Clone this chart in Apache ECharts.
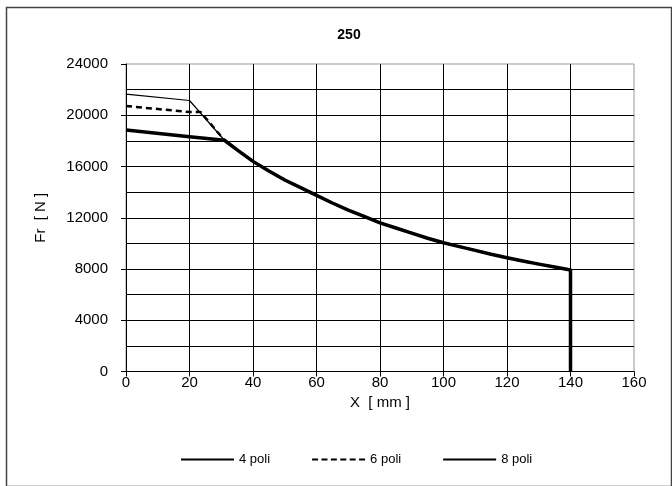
<!DOCTYPE html>
<html>
<head>
<meta charset="utf-8">
<script src="https://cdn.jsdelivr.net/npm/echarts@6/dist/echarts.min.js"></script>
<style>
html,body{margin:0;padding:0;background:#fff;}
#chart{width:672px;height:486px;}
</style>
</head>
<body>
<div id="chart"></div>
<script>
const title = '250';
const xName = 'X  [ mm ]';
const yName = 'Fr  [ N ]';
const seriesNames = ['4 poli', '6 poli', '8 poli'];

// shared curve (x mm, Fr N), ends with the vertical drop at 140 mm
const curveX = [31, 35, 40, 45, 50, 55, 60, 65, 70, 75, 80, 85, 90, 95, 100, 105, 110, 115, 120, 125, 130, 135, 140, 140];
const curveF = [18050, 17300, 16400, 15650, 14950, 14350, 13750, 13150, 12600, 12100, 11600, 11200, 10800, 10400, 10050, 9750, 9450, 9150, 8880, 8620, 8380, 8150, 7920, 0];

// initial segments of each series
const poli4X = [0, 20];
const poli4F = [18850, 18330];
const poli6X = [0, 20, 23.5];
const poli6F = [20720, 20250, 20250];
const poli8X = [0, 20];
const poli8F = [21650, 21150];

function pts(xs, fs) { return xs.map((x, i) => [x, fs[i]]); }
const data4 = pts(poli4X.concat(curveX), poli4F.concat(curveF));
const data6 = pts(poli6X.concat(curveX), poli6F.concat(curveF));
const data8 = pts(poli8X.concat(curveX), poli8F.concat(curveF));

const solidIcon = 'path://M0,0 H53 V2 H0 Z';
const dashIcon = 'path://M0,0 h6 v2 h-6 Z M9.4,0 h6 v2 h-6 Z M18.8,0 h6 v2 h-6 Z M28.2,0 h6 v2 h-6 Z M37.6,0 h6 v2 h-6 Z M47,0 h6 v2 h-6 Z';

const font = 'Liberation Sans, Arial, sans-serif';
const chart = echarts.init(document.getElementById('chart'), null, {renderer: 'canvas'});
chart.setOption({
  animation: false,
  backgroundColor: '#fff',
  textStyle: {fontFamily: font},
  title: {
    text: title, left: 344, top: 23, textAlign: 'center',
    textStyle: {fontFamily: font, fontSize: 14, fontWeight: 'bold', color: '#000'}
  },
  legend: {
    top: 453, left: 181, padding: 0,
    itemWidth: 53, itemHeight: 2, itemGap: 42,
    textStyle: {fontFamily: font, fontSize: 13, color: '#000'},
    data: [
      {name: seriesNames[0], icon: solidIcon},
      {name: seriesNames[1], icon: dashIcon},
      {name: seriesNames[2], icon: solidIcon}
    ]
  },
  grid: {
    left: 126, right: 38, top: 64, bottom: 114.5,
    show: true, borderColor: '#999', borderWidth: 1, containLabel: false
  },
  xAxis: {
    type: 'value', min: 0, max: 160, interval: 20,
    name: xName, nameLocation: 'middle', nameGap: 15,
    nameTextStyle: {fontFamily: font, fontSize: 15, color: '#000'},
    axisLine: {show: true, onZero: false, lineStyle: {color: '#000', width: 1}},
    axisTick: {show: true, inside: false, length: 5, lineStyle: {color: '#000'}},
    axisLabel: {fontFamily: font, fontSize: 15, color: '#000', margin: 4, formatter: v => String(v)},
    splitLine: {show: true, showMinLine: false, showMaxLine: false, lineStyle: {color: '#000', width: 1}}
  },
  yAxis: {
    type: 'value', min: 0, max: 24000, interval: 4000,
    name: yName, nameLocation: 'middle', nameGap: 78, nameRotate: 90,
    nameTextStyle: {fontFamily: font, fontSize: 15, color: '#000'},
    axisLine: {show: true, onZero: false, lineStyle: {color: '#000', width: 1}},
    axisTick: {show: true, inside: false, length: 5, lineStyle: {color: '#000'}},
    axisLabel: {fontFamily: font, fontSize: 15, color: '#000', margin: 18, formatter: v => String(v)},
    splitLine: {show: true, showMinLine: false, showMaxLine: false, lineStyle: {color: '#000', width: 1}},
    minorTick: {show: false, splitNumber: 2},
    minorSplitLine: {show: true, lineStyle: {color: '#000', width: 1}}
  },
  series: [
    {name: seriesNames[0], type: 'line', data: data4, showSymbol: false, symbol: 'none',
     lineStyle: {color: '#000', width: 3.5, join: 'round'}, itemStyle: {color: '#000'}, z: 2},
    {name: seriesNames[1], type: 'line', data: data6, showSymbol: false, symbol: 'none',
     lineStyle: {color: '#000', width: 2.5, type: [6, 4]}, itemStyle: {color: '#000'}, z: 3},
    {name: seriesNames[2], type: 'line', data: data8, showSymbol: false, symbol: 'none',
     lineStyle: {color: '#000', width: 1.2}, itemStyle: {color: '#000'}, z: 4}
  ],
  graphic: [
    {type: 'rect', left: 4, top: 5, shape: {width: 665, height: 479},
     style: {fill: 'none', stroke: '#444', lineWidth: 1.5}, silent: true}
  ]
});
</script>
</body>
</html>
